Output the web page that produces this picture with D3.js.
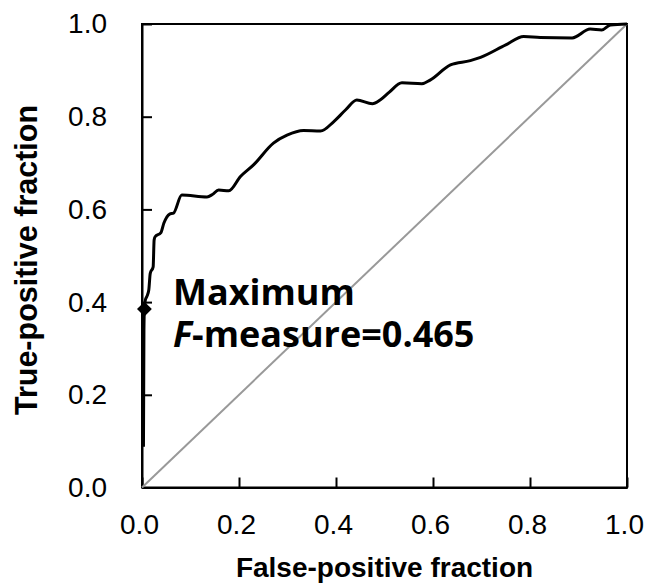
<!DOCTYPE html>
<html>
<head>
<meta charset="utf-8">
<script src="https://cdn.jsdelivr.net/npm/d3@7"></script>
<style>
  body { margin: 0; background: #fff; }
  .axis text { font-family: "Liberation Sans", Arial, sans-serif; font-size: 28px; fill: #000; }
  .axis line, .axis path { stroke: #000; stroke-width: 2px; }
  .title { font-family: "Liberation Sans", Arial, sans-serif; font-size: 28px; font-weight: bold; }
  .note { font-family: "Open Sans", sans-serif; font-size: 36px; font-weight: bold; }
</style>
</head>
<body>
<div id="canvas"></div>
<script>
// ROC curve
var fpr = [0.003, 0.004, 0.005, 0.007, 0.010, 0.014, 0.017, 0.023, 0.025, 0.027,
           0.039, 0.045, 0.057, 0.065, 0.082, 0.134, 0.145, 0.158, 0.179, 0.203,
           0.230, 0.271, 0.299, 0.333, 0.368, 0.395, 0.420, 0.443, 0.475, 0.491,
           0.510, 0.536, 0.577, 0.594, 0.636, 0.677, 0.698, 0.750, 0.787, 0.821,
           0.887, 0.924, 0.948, 0.966, 1.0];
var tpr = [0.088, 0.340, 0.387, 0.405, 0.412, 0.426, 0.462, 0.476, 0.534, 0.541,
           0.550, 0.570, 0.590, 0.592, 0.631, 0.627, 0.632, 0.642, 0.640, 0.671,
           0.696, 0.743, 0.760, 0.770, 0.769, 0.789, 0.815, 0.836, 0.828, 0.836,
           0.853, 0.873, 0.871, 0.879, 0.912, 0.921, 0.928, 0.955, 0.973, 0.971,
           0.970, 0.989, 0.987, 0.998, 1.0];
var best = [0.005, 0.385];   // maximum F-measure point
var ticks = [0, 0.2, 0.4, 0.6, 0.8, 1.0];
var noteLines = ['Maximum', '-measure=0.465'];

var m = {t:24, r:20, b:96, l:142};
var outerWidth = 647, outerHeight = 584;
var w = 485, h = 463.5;

var svg = d3.select('#canvas')
    .append('svg')
    .attr('width', outerWidth)
    .attr('height', outerHeight);

var plot = svg.append('g')
    .attr('transform', 'translate(' + m.l + ',' + m.t + ')');

var scaleX = d3.scaleLinear().domain([0, 1]).range([0, w]);
var scaleY = d3.scaleLinear().domain([0, 1]).range([h, 0]);

var axisX = d3.axisBottom(scaleX)
    .tickValues(ticks)
    .tickFormat(d3.format('.1f'))
    .tickSizeInner(-10)
    .tickSizeOuter(0)
    .tickPadding(27);

var axisY = d3.axisLeft(scaleY)
    .tickValues(ticks)
    .tickFormat(d3.format('.1f'))
    .tickSizeInner(-10)
    .tickSizeOuter(0)
    .tickPadding(35);

plot.append('g').attr('class', 'axis axis-x')
    .attr('transform', 'translate(0,' + h + ')')
    .call(axisX);

plot.append('g').attr('class', 'axis axis-y').call(axisY);

plot.selectAll('.axis-x .tick text').attr('dx', -3);

// frame
plot.append('rect')
    .attr('x', 0).attr('y', 0)
    .attr('width', w).attr('height', h)
    .attr('fill', 'none')
    .attr('stroke', '#000')
    .attr('stroke-width', 2);

// chance diagonal
plot.append('line')
    .attr('x1', scaleX(0)).attr('y1', scaleY(0))
    .attr('x2', scaleX(1)).attr('y2', scaleY(1))
    .attr('stroke', '#999')
    .attr('stroke-width', 2);

var rows = fpr.map(function(d, i) { return {x: d, y: tpr[i]}; });

var line = d3.line()
    .x(function(d) { return scaleX(d.x); })
    .y(function(d) { return scaleY(d.y); })
    .curve(d3.curveMonotoneX);

plot.append('path')
    .datum(rows)
    .attr('d', line)
    .attr('fill', 'none')
    .attr('stroke', '#000')
    .attr('stroke-width', 3)
    .attr('stroke-linejoin', 'round');

plot.append('path')
    .attr('d', d3.symbol().type(d3.symbolSquare).size(110)())
    .attr('transform', 'translate(' + scaleX(best[0]) + ',' + scaleY(best[1]) + ') rotate(45)')
    .attr('fill', '#000');

// annotation, one text per line
plot.append('text').attr('class', 'note')
    .attr('x', 31).attr('y', 281)
    .text(noteLines[0]);
var l2 = plot.append('text').attr('class', 'note')
    .attr('x', 31).attr('y', 322.7);
l2.append('tspan').attr('font-style', 'italic').text('F');
l2.append('tspan').text(noteLines[1]);

// axis titles
svg.append('text').attr('class', 'title')
    .attr('x', m.l + w / 2).attr('y', 577)
    .attr('text-anchor', 'middle')
    .text('False-positive fraction');

svg.append('text').attr('class', 'title')
    .attr('transform', 'translate(37,260) rotate(-90)')
    .attr('text-anchor', 'middle')
    .style('font-size', '30.5px')
    .text('True-positive fraction');
</script>
</body>
</html>
